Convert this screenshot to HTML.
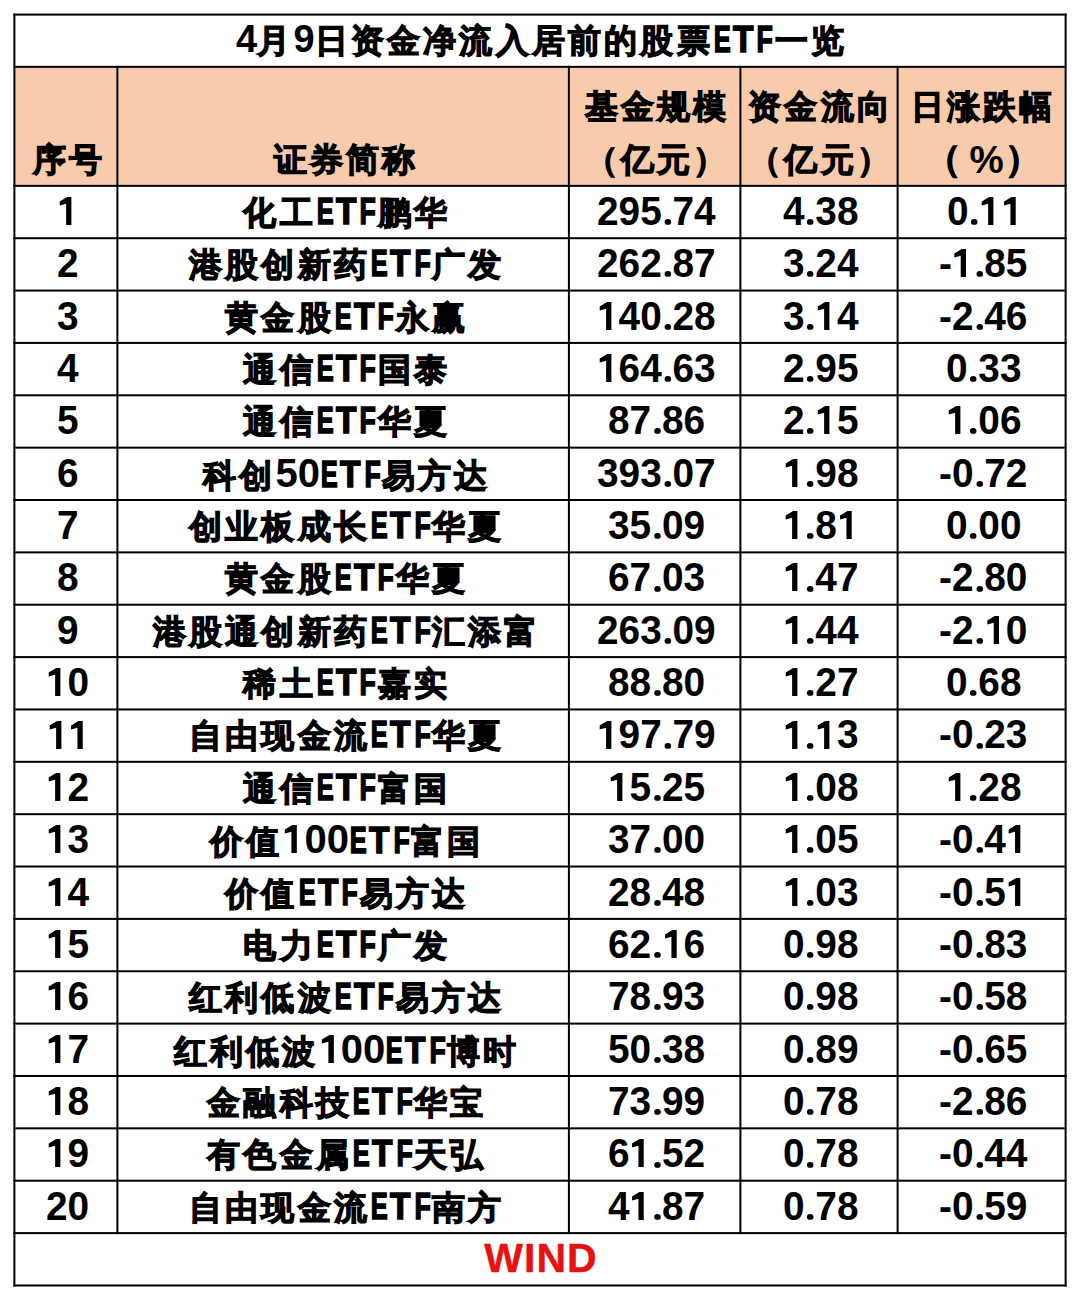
<!DOCTYPE html>
<html><head><meta charset="utf-8"><title>ETF</title><style>
html,body{margin:0;padding:0;background:#fff;}
body{width:1080px;height:1300px;overflow:hidden;position:relative;font-family:"Liberation Sans",sans-serif;font-weight:bold;color:#000;}
svg.grid{position:absolute;left:0;top:0;}
.t{position:absolute;text-align:center;white-space:nowrap;height:60px;line-height:60px;font-size:0;box-sizing:border-box;}
.c{-webkit-text-stroke:1.2px currentColor;position:relative;top:-0.0px;}
.l{display:inline-block;-webkit-text-stroke:0.0px currentColor;}
.s{display:inline-block;transform-origin:0 50%;}
.one{display:inline;vertical-align:baseline;overflow:visible;}
.wind{color:#E81010;}
</style></head>
<body>
<svg class="grid" width="1080" height="1300" viewBox="0 0 1080 1300"><rect x="14.4" y="66.85" width="1051.1999999999998" height="119.0" fill="#F8CBAD"/><rect x="13.40" y="13.60" width="1053.20" height="2.0"/><rect x="13.40" y="65.85" width="1053.20" height="2.0"/><rect x="13.40" y="1284.50" width="1053.20" height="2.0"/><rect x="13.40" y="1232.10" width="1053.20" height="2.0"/><rect x="13.40" y="184.85" width="1053.20" height="2.0"/><rect x="13.40" y="237.21" width="1053.20" height="2.0"/><rect x="13.40" y="289.57" width="1053.20" height="2.0"/><rect x="13.40" y="341.93" width="1053.20" height="2.0"/><rect x="13.40" y="394.29" width="1053.20" height="2.0"/><rect x="13.40" y="446.65" width="1053.20" height="2.0"/><rect x="13.40" y="499.01" width="1053.20" height="2.0"/><rect x="13.40" y="551.37" width="1053.20" height="2.0"/><rect x="13.40" y="603.73" width="1053.20" height="2.0"/><rect x="13.40" y="656.09" width="1053.20" height="2.0"/><rect x="13.40" y="708.45" width="1053.20" height="2.0"/><rect x="13.40" y="760.81" width="1053.20" height="2.0"/><rect x="13.40" y="813.17" width="1053.20" height="2.0"/><rect x="13.40" y="865.53" width="1053.20" height="2.0"/><rect x="13.40" y="917.89" width="1053.20" height="2.0"/><rect x="13.40" y="970.25" width="1053.20" height="2.0"/><rect x="13.40" y="1022.61" width="1053.20" height="2.0"/><rect x="13.40" y="1074.97" width="1053.20" height="2.0"/><rect x="13.40" y="1127.33" width="1053.20" height="2.0"/><rect x="13.40" y="1179.69" width="1053.20" height="2.0"/><rect x="13.40" y="13.60" width="2.0" height="1272.90"/><rect x="1064.60" y="13.60" width="2.0" height="1272.90"/><rect x="116.40" y="65.85" width="2.0" height="1168.25"/><rect x="567.90" y="65.85" width="2.0" height="1168.25"/><rect x="739.40" y="65.85" width="2.0" height="1168.25"/><rect x="896.60" y="65.85" width="2.0" height="1168.25"/></svg>
<div class="t title" style="left:14.40px;width:1051.20px;top:8.50px;padding-left:3.2px"><span class="l" style="font-size:38px">4</span><span class="c" style="font-size:33px;letter-spacing:3.2px">月</span><span class="l" style="font-size:38px">9</span><span class="c" style="font-size:33px;letter-spacing:3.2px">日资金净流入居前的股票</span><span class="l" style="font-size:37.2px;width:18.05px"><span class="s" style="-webkit-text-stroke:1.6px currentColor;transform:translateX(0.74px) scaleX(0.685)">E</span></span><span class="l" style="font-size:37.2px;width:24.60px"><span class="s" style="-webkit-text-stroke:1.6px currentColor;transform:translateX(1.09px) scaleX(0.898)">T</span></span><span class="l" style="font-size:37.2px;width:19.35px"><span class="s" style="-webkit-text-stroke:1.6px currentColor;transform:translateX(1.54px) scaleX(0.718)">F</span></span><span class="c" style="font-size:33px;letter-spacing:3.2px">一览</span></div>
<div class="t " style="left:15.90px;width:103.00px;top:130.00px;padding-left:3.2px"><span class="c" style="font-size:33px;letter-spacing:3.2px">序号</span></div>
<div class="t " style="left:118.90px;width:451.50px;top:130.00px;padding-left:3.2px"><span class="c" style="font-size:33px;letter-spacing:3.2px">证券简称</span></div>
<div class="t " style="left:569.90px;width:171.50px;top:77.00px;padding-left:3.2px"><span class="c" style="font-size:33px;letter-spacing:3.2px">基金规模</span></div>
<div class="t " style="left:569.90px;width:171.50px;top:130.00px;padding-left:3.2px"><span class="c" style="font-size:33px;letter-spacing:3.2px">（亿元）</span></div>
<div class="t " style="left:740.40px;width:157.20px;top:77.00px;padding-left:3.2px"><span class="c" style="font-size:33px;letter-spacing:3.2px">资金流向</span></div>
<div class="t " style="left:740.40px;width:157.20px;top:130.00px;padding-left:3.2px"><span class="c" style="font-size:33px;letter-spacing:3.2px">（亿元）</span></div>
<div class="t " style="left:897.60px;width:168.00px;top:77.00px;padding-left:3.2px"><span class="c" style="font-size:33px;letter-spacing:3.2px">日涨跌幅</span></div>
<div class="t " style="left:897.60px;width:168.00px;top:130.00px;padding-left:0px"><span class="c" style="font-size:36px;position:relative;left:-3px;top:-2.5px">（</span><span class="l" style="font-size:38.5px;position:relative;left:5px">%</span><span class="c" style="font-size:36px;position:relative;left:6px;top:-2.5px">）</span></div>
<div class="t " style="left:15.90px;width:103.00px;top:180.85px;padding-left:0px"><span class="l" style="font-size:40px;width:21.58px"><span class="s" style="transform:scaleX(0.97)"><svg class="one" width="22.25" height="27.90" viewBox="0 0 22.25 27.90"><path d="M10.43,0 L14.83,0 L14.83,27.90 L9.40,27.90 L9.40,6.70 L2.80,8.40 L2.80,4.40 Z"/></svg></span></span></div>
<div class="t " style="left:119.40px;width:451.50px;top:180.85px;padding-left:3.2px"><span class="c" style="font-size:33px;letter-spacing:3.2px">化工</span><span class="l" style="font-size:37.2px;width:18.05px"><span class="s" style="-webkit-text-stroke:1.6px currentColor;transform:translateX(0.74px) scaleX(0.685)">E</span></span><span class="l" style="font-size:37.2px;width:24.60px"><span class="s" style="-webkit-text-stroke:1.6px currentColor;transform:translateX(1.09px) scaleX(0.898)">T</span></span><span class="l" style="font-size:37.2px;width:19.35px"><span class="s" style="-webkit-text-stroke:1.6px currentColor;transform:translateX(1.54px) scaleX(0.718)">F</span></span><span class="c" style="font-size:33px;letter-spacing:3.2px">鹏华</span></div>
<div class="t " style="left:570.90px;width:171.50px;top:180.85px;padding-left:0px"><span class="l" style="font-size:40px;width:118.68px"><span class="s" style="transform:scaleX(0.97)">295<svg class="one" width="11.11" height="5.80" viewBox="0 0 11.11 5.80"><ellipse cx="6.04" cy="2.90" rx="3.40" ry="2.90"/></svg>74</span></span></div>
<div class="t " style="left:742.40px;width:157.20px;top:180.85px;padding-left:0px"><span class="l" style="font-size:40px;width:75.52px"><span class="s" style="transform:scaleX(0.97)">4<svg class="one" width="11.11" height="5.80" viewBox="0 0 11.11 5.80"><ellipse cx="6.04" cy="2.90" rx="3.40" ry="2.90"/></svg>38</span></span></div>
<div class="t " style="left:899.60px;width:168.00px;top:180.85px;padding-left:0px"><span class="l" style="font-size:40px;width:73.38px"><span class="s" style="transform:scaleX(0.97)">0<svg class="one" width="11.11" height="5.80" viewBox="0 0 11.11 5.80"><ellipse cx="6.04" cy="2.90" rx="3.40" ry="2.90"/></svg><svg class="one" width="22.25" height="27.90" viewBox="0 0 22.25 27.90"><path d="M10.43,0 L14.83,0 L14.83,27.90 L9.40,27.90 L9.40,6.70 L2.80,8.40 L2.80,4.40 Z"/></svg><svg class="one" width="22.25" height="27.90" viewBox="0 0 22.25 27.90"><path d="M10.43,0 L14.83,0 L14.83,27.90 L9.40,27.90 L9.40,6.70 L2.80,8.40 L2.80,4.40 Z"/></svg></span></span></div>
<div class="t " style="left:15.90px;width:103.00px;top:233.21px;padding-left:0px"><span class="l" style="font-size:40px;width:21.58px"><span class="s" style="transform:scaleX(0.97)">2</span></span></div>
<div class="t " style="left:119.40px;width:451.50px;top:233.21px;padding-left:3.2px"><span class="c" style="font-size:33px;letter-spacing:3.2px">港股创新药</span><span class="l" style="font-size:37.2px;width:18.05px"><span class="s" style="-webkit-text-stroke:1.6px currentColor;transform:translateX(0.74px) scaleX(0.685)">E</span></span><span class="l" style="font-size:37.2px;width:24.60px"><span class="s" style="-webkit-text-stroke:1.6px currentColor;transform:translateX(1.09px) scaleX(0.898)">T</span></span><span class="l" style="font-size:37.2px;width:19.35px"><span class="s" style="-webkit-text-stroke:1.6px currentColor;transform:translateX(1.54px) scaleX(0.718)">F</span></span><span class="c" style="font-size:33px;letter-spacing:3.2px">广发</span></div>
<div class="t " style="left:570.90px;width:171.50px;top:233.21px;padding-left:0px"><span class="l" style="font-size:40px;width:118.68px"><span class="s" style="transform:scaleX(0.97)">262<svg class="one" width="11.11" height="5.80" viewBox="0 0 11.11 5.80"><ellipse cx="6.04" cy="2.90" rx="3.40" ry="2.90"/></svg>87</span></span></div>
<div class="t " style="left:742.40px;width:157.20px;top:233.21px;padding-left:0px"><span class="l" style="font-size:40px;width:75.52px"><span class="s" style="transform:scaleX(0.97)">3<svg class="one" width="11.11" height="5.80" viewBox="0 0 11.11 5.80"><ellipse cx="6.04" cy="2.90" rx="3.40" ry="2.90"/></svg>24</span></span></div>
<div class="t " style="left:899.60px;width:168.00px;top:233.21px;padding-left:0px"><span class="l" style="font-size:40px;width:88.44px"><span class="s" style="transform:scaleX(0.97)">-<svg class="one" width="22.25" height="27.90" viewBox="0 0 22.25 27.90"><path d="M10.43,0 L14.83,0 L14.83,27.90 L9.40,27.90 L9.40,6.70 L2.80,8.40 L2.80,4.40 Z"/></svg><svg class="one" width="11.11" height="5.80" viewBox="0 0 11.11 5.80"><ellipse cx="6.04" cy="2.90" rx="3.40" ry="2.90"/></svg>85</span></span></div>
<div class="t " style="left:15.90px;width:103.00px;top:285.57px;padding-left:0px"><span class="l" style="font-size:40px;width:21.58px"><span class="s" style="transform:scaleX(0.97)">3</span></span></div>
<div class="t " style="left:119.40px;width:451.50px;top:285.57px;padding-left:3.2px"><span class="c" style="font-size:33px;letter-spacing:3.2px">黄金股</span><span class="l" style="font-size:37.2px;width:18.05px"><span class="s" style="-webkit-text-stroke:1.6px currentColor;transform:translateX(0.74px) scaleX(0.685)">E</span></span><span class="l" style="font-size:37.2px;width:24.60px"><span class="s" style="-webkit-text-stroke:1.6px currentColor;transform:translateX(1.09px) scaleX(0.898)">T</span></span><span class="l" style="font-size:37.2px;width:19.35px"><span class="s" style="-webkit-text-stroke:1.6px currentColor;transform:translateX(1.54px) scaleX(0.718)">F</span></span><span class="c" style="font-size:33px;letter-spacing:3.2px">永赢</span></div>
<div class="t " style="left:570.90px;width:171.50px;top:285.57px;padding-left:0px"><span class="l" style="font-size:40px;width:118.68px"><span class="s" style="transform:scaleX(0.97)"><svg class="one" width="22.25" height="27.90" viewBox="0 0 22.25 27.90"><path d="M10.43,0 L14.83,0 L14.83,27.90 L9.40,27.90 L9.40,6.70 L2.80,8.40 L2.80,4.40 Z"/></svg>40<svg class="one" width="11.11" height="5.80" viewBox="0 0 11.11 5.80"><ellipse cx="6.04" cy="2.90" rx="3.40" ry="2.90"/></svg>28</span></span></div>
<div class="t " style="left:742.40px;width:157.20px;top:285.57px;padding-left:0px"><span class="l" style="font-size:40px;width:75.52px"><span class="s" style="transform:scaleX(0.97)">3<svg class="one" width="11.11" height="5.80" viewBox="0 0 11.11 5.80"><ellipse cx="6.04" cy="2.90" rx="3.40" ry="2.90"/></svg><svg class="one" width="22.25" height="27.90" viewBox="0 0 22.25 27.90"><path d="M10.43,0 L14.83,0 L14.83,27.90 L9.40,27.90 L9.40,6.70 L2.80,8.40 L2.80,4.40 Z"/></svg>4</span></span></div>
<div class="t " style="left:899.60px;width:168.00px;top:285.57px;padding-left:0px"><span class="l" style="font-size:40px;width:88.44px"><span class="s" style="transform:scaleX(0.97)">-2<svg class="one" width="11.11" height="5.80" viewBox="0 0 11.11 5.80"><ellipse cx="6.04" cy="2.90" rx="3.40" ry="2.90"/></svg>46</span></span></div>
<div class="t " style="left:15.90px;width:103.00px;top:337.93px;padding-left:0px"><span class="l" style="font-size:40px;width:21.58px"><span class="s" style="transform:scaleX(0.97)">4</span></span></div>
<div class="t " style="left:119.40px;width:451.50px;top:337.93px;padding-left:3.2px"><span class="c" style="font-size:33px;letter-spacing:3.2px">通信</span><span class="l" style="font-size:37.2px;width:18.05px"><span class="s" style="-webkit-text-stroke:1.6px currentColor;transform:translateX(0.74px) scaleX(0.685)">E</span></span><span class="l" style="font-size:37.2px;width:24.60px"><span class="s" style="-webkit-text-stroke:1.6px currentColor;transform:translateX(1.09px) scaleX(0.898)">T</span></span><span class="l" style="font-size:37.2px;width:19.35px"><span class="s" style="-webkit-text-stroke:1.6px currentColor;transform:translateX(1.54px) scaleX(0.718)">F</span></span><span class="c" style="font-size:33px;letter-spacing:3.2px">国泰</span></div>
<div class="t " style="left:570.90px;width:171.50px;top:337.93px;padding-left:0px"><span class="l" style="font-size:40px;width:118.68px"><span class="s" style="transform:scaleX(0.97)"><svg class="one" width="22.25" height="27.90" viewBox="0 0 22.25 27.90"><path d="M10.43,0 L14.83,0 L14.83,27.90 L9.40,27.90 L9.40,6.70 L2.80,8.40 L2.80,4.40 Z"/></svg>64<svg class="one" width="11.11" height="5.80" viewBox="0 0 11.11 5.80"><ellipse cx="6.04" cy="2.90" rx="3.40" ry="2.90"/></svg>63</span></span></div>
<div class="t " style="left:742.40px;width:157.20px;top:337.93px;padding-left:0px"><span class="l" style="font-size:40px;width:75.52px"><span class="s" style="transform:scaleX(0.97)">2<svg class="one" width="11.11" height="5.80" viewBox="0 0 11.11 5.80"><ellipse cx="6.04" cy="2.90" rx="3.40" ry="2.90"/></svg>95</span></span></div>
<div class="t " style="left:899.60px;width:168.00px;top:337.93px;padding-left:0px"><span class="l" style="font-size:40px;width:75.52px"><span class="s" style="transform:scaleX(0.97)">0<svg class="one" width="11.11" height="5.80" viewBox="0 0 11.11 5.80"><ellipse cx="6.04" cy="2.90" rx="3.40" ry="2.90"/></svg>33</span></span></div>
<div class="t " style="left:15.90px;width:103.00px;top:390.29px;padding-left:0px"><span class="l" style="font-size:40px;width:21.58px"><span class="s" style="transform:scaleX(0.97)">5</span></span></div>
<div class="t " style="left:119.40px;width:451.50px;top:390.29px;padding-left:3.2px"><span class="c" style="font-size:33px;letter-spacing:3.2px">通信</span><span class="l" style="font-size:37.2px;width:18.05px"><span class="s" style="-webkit-text-stroke:1.6px currentColor;transform:translateX(0.74px) scaleX(0.685)">E</span></span><span class="l" style="font-size:37.2px;width:24.60px"><span class="s" style="-webkit-text-stroke:1.6px currentColor;transform:translateX(1.09px) scaleX(0.898)">T</span></span><span class="l" style="font-size:37.2px;width:19.35px"><span class="s" style="-webkit-text-stroke:1.6px currentColor;transform:translateX(1.54px) scaleX(0.718)">F</span></span><span class="c" style="font-size:33px;letter-spacing:3.2px">华夏</span></div>
<div class="t " style="left:570.90px;width:171.50px;top:390.29px;padding-left:0px"><span class="l" style="font-size:40px;width:97.10px"><span class="s" style="transform:scaleX(0.97)">87<svg class="one" width="11.11" height="5.80" viewBox="0 0 11.11 5.80"><ellipse cx="6.04" cy="2.90" rx="3.40" ry="2.90"/></svg>86</span></span></div>
<div class="t " style="left:742.40px;width:157.20px;top:390.29px;padding-left:0px"><span class="l" style="font-size:40px;width:75.52px"><span class="s" style="transform:scaleX(0.97)">2<svg class="one" width="11.11" height="5.80" viewBox="0 0 11.11 5.80"><ellipse cx="6.04" cy="2.90" rx="3.40" ry="2.90"/></svg><svg class="one" width="22.25" height="27.90" viewBox="0 0 22.25 27.90"><path d="M10.43,0 L14.83,0 L14.83,27.90 L9.40,27.90 L9.40,6.70 L2.80,8.40 L2.80,4.40 Z"/></svg>5</span></span></div>
<div class="t " style="left:899.60px;width:168.00px;top:390.29px;padding-left:0px"><span class="l" style="font-size:40px;width:75.52px"><span class="s" style="transform:scaleX(0.97)"><svg class="one" width="22.25" height="27.90" viewBox="0 0 22.25 27.90"><path d="M10.43,0 L14.83,0 L14.83,27.90 L9.40,27.90 L9.40,6.70 L2.80,8.40 L2.80,4.40 Z"/></svg><svg class="one" width="11.11" height="5.80" viewBox="0 0 11.11 5.80"><ellipse cx="6.04" cy="2.90" rx="3.40" ry="2.90"/></svg>06</span></span></div>
<div class="t " style="left:15.90px;width:103.00px;top:442.65px;padding-left:0px"><span class="l" style="font-size:40px;width:21.58px"><span class="s" style="transform:scaleX(0.97)">6</span></span></div>
<div class="t " style="left:119.40px;width:451.50px;top:442.65px;padding-left:3.2px"><span class="c" style="font-size:33px;letter-spacing:3.2px">科创</span><span class="l" style="font-size:40px">50</span><span class="l" style="font-size:37.2px;width:18.05px"><span class="s" style="-webkit-text-stroke:1.6px currentColor;transform:translateX(0.74px) scaleX(0.685)">E</span></span><span class="l" style="font-size:37.2px;width:24.60px"><span class="s" style="-webkit-text-stroke:1.6px currentColor;transform:translateX(1.09px) scaleX(0.898)">T</span></span><span class="l" style="font-size:37.2px;width:19.35px"><span class="s" style="-webkit-text-stroke:1.6px currentColor;transform:translateX(1.54px) scaleX(0.718)">F</span></span><span class="c" style="font-size:33px;letter-spacing:3.2px">易方达</span></div>
<div class="t " style="left:570.90px;width:171.50px;top:442.65px;padding-left:0px"><span class="l" style="font-size:40px;width:118.68px"><span class="s" style="transform:scaleX(0.97)">393<svg class="one" width="11.11" height="5.80" viewBox="0 0 11.11 5.80"><ellipse cx="6.04" cy="2.90" rx="3.40" ry="2.90"/></svg>07</span></span></div>
<div class="t " style="left:742.40px;width:157.20px;top:442.65px;padding-left:0px"><span class="l" style="font-size:40px;width:75.52px"><span class="s" style="transform:scaleX(0.97)"><svg class="one" width="22.25" height="27.90" viewBox="0 0 22.25 27.90"><path d="M10.43,0 L14.83,0 L14.83,27.90 L9.40,27.90 L9.40,6.70 L2.80,8.40 L2.80,4.40 Z"/></svg><svg class="one" width="11.11" height="5.80" viewBox="0 0 11.11 5.80"><ellipse cx="6.04" cy="2.90" rx="3.40" ry="2.90"/></svg>98</span></span></div>
<div class="t " style="left:899.60px;width:168.00px;top:442.65px;padding-left:0px"><span class="l" style="font-size:40px;width:88.44px"><span class="s" style="transform:scaleX(0.97)">-0<svg class="one" width="11.11" height="5.80" viewBox="0 0 11.11 5.80"><ellipse cx="6.04" cy="2.90" rx="3.40" ry="2.90"/></svg>72</span></span></div>
<div class="t " style="left:15.90px;width:103.00px;top:495.01px;padding-left:0px"><span class="l" style="font-size:40px;width:21.58px"><span class="s" style="transform:scaleX(0.97)">7</span></span></div>
<div class="t " style="left:119.40px;width:451.50px;top:495.01px;padding-left:3.2px"><span class="c" style="font-size:33px;letter-spacing:3.2px">创业板成长</span><span class="l" style="font-size:37.2px;width:18.05px"><span class="s" style="-webkit-text-stroke:1.6px currentColor;transform:translateX(0.74px) scaleX(0.685)">E</span></span><span class="l" style="font-size:37.2px;width:24.60px"><span class="s" style="-webkit-text-stroke:1.6px currentColor;transform:translateX(1.09px) scaleX(0.898)">T</span></span><span class="l" style="font-size:37.2px;width:19.35px"><span class="s" style="-webkit-text-stroke:1.6px currentColor;transform:translateX(1.54px) scaleX(0.718)">F</span></span><span class="c" style="font-size:33px;letter-spacing:3.2px">华夏</span></div>
<div class="t " style="left:570.90px;width:171.50px;top:495.01px;padding-left:0px"><span class="l" style="font-size:40px;width:97.10px"><span class="s" style="transform:scaleX(0.97)">35<svg class="one" width="11.11" height="5.80" viewBox="0 0 11.11 5.80"><ellipse cx="6.04" cy="2.90" rx="3.40" ry="2.90"/></svg>09</span></span></div>
<div class="t " style="left:742.40px;width:157.20px;top:495.01px;padding-left:0px"><span class="l" style="font-size:40px;width:75.52px"><span class="s" style="transform:scaleX(0.97)"><svg class="one" width="22.25" height="27.90" viewBox="0 0 22.25 27.90"><path d="M10.43,0 L14.83,0 L14.83,27.90 L9.40,27.90 L9.40,6.70 L2.80,8.40 L2.80,4.40 Z"/></svg><svg class="one" width="11.11" height="5.80" viewBox="0 0 11.11 5.80"><ellipse cx="6.04" cy="2.90" rx="3.40" ry="2.90"/></svg>8<svg class="one" width="22.25" height="27.90" viewBox="0 0 22.25 27.90"><path d="M10.43,0 L14.83,0 L14.83,27.90 L9.40,27.90 L9.40,6.70 L2.80,8.40 L2.80,4.40 Z"/></svg></span></span></div>
<div class="t " style="left:899.60px;width:168.00px;top:495.01px;padding-left:0px"><span class="l" style="font-size:40px;width:75.52px"><span class="s" style="transform:scaleX(0.97)">0<svg class="one" width="11.11" height="5.80" viewBox="0 0 11.11 5.80"><ellipse cx="6.04" cy="2.90" rx="3.40" ry="2.90"/></svg>00</span></span></div>
<div class="t " style="left:15.90px;width:103.00px;top:547.37px;padding-left:0px"><span class="l" style="font-size:40px;width:21.58px"><span class="s" style="transform:scaleX(0.97)">8</span></span></div>
<div class="t " style="left:119.40px;width:451.50px;top:547.37px;padding-left:3.2px"><span class="c" style="font-size:33px;letter-spacing:3.2px">黄金股</span><span class="l" style="font-size:37.2px;width:18.05px"><span class="s" style="-webkit-text-stroke:1.6px currentColor;transform:translateX(0.74px) scaleX(0.685)">E</span></span><span class="l" style="font-size:37.2px;width:24.60px"><span class="s" style="-webkit-text-stroke:1.6px currentColor;transform:translateX(1.09px) scaleX(0.898)">T</span></span><span class="l" style="font-size:37.2px;width:19.35px"><span class="s" style="-webkit-text-stroke:1.6px currentColor;transform:translateX(1.54px) scaleX(0.718)">F</span></span><span class="c" style="font-size:33px;letter-spacing:3.2px">华夏</span></div>
<div class="t " style="left:570.90px;width:171.50px;top:547.37px;padding-left:0px"><span class="l" style="font-size:40px;width:97.10px"><span class="s" style="transform:scaleX(0.97)">67<svg class="one" width="11.11" height="5.80" viewBox="0 0 11.11 5.80"><ellipse cx="6.04" cy="2.90" rx="3.40" ry="2.90"/></svg>03</span></span></div>
<div class="t " style="left:742.40px;width:157.20px;top:547.37px;padding-left:0px"><span class="l" style="font-size:40px;width:75.52px"><span class="s" style="transform:scaleX(0.97)"><svg class="one" width="22.25" height="27.90" viewBox="0 0 22.25 27.90"><path d="M10.43,0 L14.83,0 L14.83,27.90 L9.40,27.90 L9.40,6.70 L2.80,8.40 L2.80,4.40 Z"/></svg><svg class="one" width="11.11" height="5.80" viewBox="0 0 11.11 5.80"><ellipse cx="6.04" cy="2.90" rx="3.40" ry="2.90"/></svg>47</span></span></div>
<div class="t " style="left:899.60px;width:168.00px;top:547.37px;padding-left:0px"><span class="l" style="font-size:40px;width:88.44px"><span class="s" style="transform:scaleX(0.97)">-2<svg class="one" width="11.11" height="5.80" viewBox="0 0 11.11 5.80"><ellipse cx="6.04" cy="2.90" rx="3.40" ry="2.90"/></svg>80</span></span></div>
<div class="t " style="left:15.90px;width:103.00px;top:599.73px;padding-left:0px"><span class="l" style="font-size:40px;width:21.58px"><span class="s" style="transform:scaleX(0.97)">9</span></span></div>
<div class="t " style="left:119.40px;width:451.50px;top:599.73px;padding-left:3.2px"><span class="c" style="font-size:33px;letter-spacing:3.2px">港股通创新药</span><span class="l" style="font-size:37.2px;width:18.05px"><span class="s" style="-webkit-text-stroke:1.6px currentColor;transform:translateX(0.74px) scaleX(0.685)">E</span></span><span class="l" style="font-size:37.2px;width:24.60px"><span class="s" style="-webkit-text-stroke:1.6px currentColor;transform:translateX(1.09px) scaleX(0.898)">T</span></span><span class="l" style="font-size:37.2px;width:19.35px"><span class="s" style="-webkit-text-stroke:1.6px currentColor;transform:translateX(1.54px) scaleX(0.718)">F</span></span><span class="c" style="font-size:33px;letter-spacing:3.2px">汇添富</span></div>
<div class="t " style="left:570.90px;width:171.50px;top:599.73px;padding-left:0px"><span class="l" style="font-size:40px;width:118.68px"><span class="s" style="transform:scaleX(0.97)">263<svg class="one" width="11.11" height="5.80" viewBox="0 0 11.11 5.80"><ellipse cx="6.04" cy="2.90" rx="3.40" ry="2.90"/></svg>09</span></span></div>
<div class="t " style="left:742.40px;width:157.20px;top:599.73px;padding-left:0px"><span class="l" style="font-size:40px;width:75.52px"><span class="s" style="transform:scaleX(0.97)"><svg class="one" width="22.25" height="27.90" viewBox="0 0 22.25 27.90"><path d="M10.43,0 L14.83,0 L14.83,27.90 L9.40,27.90 L9.40,6.70 L2.80,8.40 L2.80,4.40 Z"/></svg><svg class="one" width="11.11" height="5.80" viewBox="0 0 11.11 5.80"><ellipse cx="6.04" cy="2.90" rx="3.40" ry="2.90"/></svg>44</span></span></div>
<div class="t " style="left:899.60px;width:168.00px;top:599.73px;padding-left:0px"><span class="l" style="font-size:40px;width:88.44px"><span class="s" style="transform:scaleX(0.97)">-2<svg class="one" width="11.11" height="5.80" viewBox="0 0 11.11 5.80"><ellipse cx="6.04" cy="2.90" rx="3.40" ry="2.90"/></svg><svg class="one" width="22.25" height="27.90" viewBox="0 0 22.25 27.90"><path d="M10.43,0 L14.83,0 L14.83,27.90 L9.40,27.90 L9.40,6.70 L2.80,8.40 L2.80,4.40 Z"/></svg>0</span></span></div>
<div class="t " style="left:15.90px;width:103.00px;top:652.09px;padding-left:0px"><span class="l" style="font-size:40px;width:43.16px"><span class="s" style="transform:scaleX(0.97)"><svg class="one" width="22.25" height="27.90" viewBox="0 0 22.25 27.90"><path d="M10.43,0 L14.83,0 L14.83,27.90 L9.40,27.90 L9.40,6.70 L2.80,8.40 L2.80,4.40 Z"/></svg>0</span></span></div>
<div class="t " style="left:119.40px;width:451.50px;top:652.09px;padding-left:3.2px"><span class="c" style="font-size:33px;letter-spacing:3.2px">稀土</span><span class="l" style="font-size:37.2px;width:18.05px"><span class="s" style="-webkit-text-stroke:1.6px currentColor;transform:translateX(0.74px) scaleX(0.685)">E</span></span><span class="l" style="font-size:37.2px;width:24.60px"><span class="s" style="-webkit-text-stroke:1.6px currentColor;transform:translateX(1.09px) scaleX(0.898)">T</span></span><span class="l" style="font-size:37.2px;width:19.35px"><span class="s" style="-webkit-text-stroke:1.6px currentColor;transform:translateX(1.54px) scaleX(0.718)">F</span></span><span class="c" style="font-size:33px;letter-spacing:3.2px">嘉实</span></div>
<div class="t " style="left:570.90px;width:171.50px;top:652.09px;padding-left:0px"><span class="l" style="font-size:40px;width:97.10px"><span class="s" style="transform:scaleX(0.97)">88<svg class="one" width="11.11" height="5.80" viewBox="0 0 11.11 5.80"><ellipse cx="6.04" cy="2.90" rx="3.40" ry="2.90"/></svg>80</span></span></div>
<div class="t " style="left:742.40px;width:157.20px;top:652.09px;padding-left:0px"><span class="l" style="font-size:40px;width:75.52px"><span class="s" style="transform:scaleX(0.97)"><svg class="one" width="22.25" height="27.90" viewBox="0 0 22.25 27.90"><path d="M10.43,0 L14.83,0 L14.83,27.90 L9.40,27.90 L9.40,6.70 L2.80,8.40 L2.80,4.40 Z"/></svg><svg class="one" width="11.11" height="5.80" viewBox="0 0 11.11 5.80"><ellipse cx="6.04" cy="2.90" rx="3.40" ry="2.90"/></svg>27</span></span></div>
<div class="t " style="left:899.60px;width:168.00px;top:652.09px;padding-left:0px"><span class="l" style="font-size:40px;width:75.52px"><span class="s" style="transform:scaleX(0.97)">0<svg class="one" width="11.11" height="5.80" viewBox="0 0 11.11 5.80"><ellipse cx="6.04" cy="2.90" rx="3.40" ry="2.90"/></svg>68</span></span></div>
<div class="t " style="left:15.90px;width:103.00px;top:704.45px;padding-left:0px"><span class="l" style="font-size:40px;width:41.02px"><span class="s" style="transform:scaleX(0.97)"><svg class="one" width="22.25" height="27.90" viewBox="0 0 22.25 27.90"><path d="M10.43,0 L14.83,0 L14.83,27.90 L9.40,27.90 L9.40,6.70 L2.80,8.40 L2.80,4.40 Z"/></svg><svg class="one" width="22.25" height="27.90" viewBox="0 0 22.25 27.90"><path d="M10.43,0 L14.83,0 L14.83,27.90 L9.40,27.90 L9.40,6.70 L2.80,8.40 L2.80,4.40 Z"/></svg></span></span></div>
<div class="t " style="left:119.40px;width:451.50px;top:704.45px;padding-left:3.2px"><span class="c" style="font-size:33px;letter-spacing:3.2px">自由现金流</span><span class="l" style="font-size:37.2px;width:18.05px"><span class="s" style="-webkit-text-stroke:1.6px currentColor;transform:translateX(0.74px) scaleX(0.685)">E</span></span><span class="l" style="font-size:37.2px;width:24.60px"><span class="s" style="-webkit-text-stroke:1.6px currentColor;transform:translateX(1.09px) scaleX(0.898)">T</span></span><span class="l" style="font-size:37.2px;width:19.35px"><span class="s" style="-webkit-text-stroke:1.6px currentColor;transform:translateX(1.54px) scaleX(0.718)">F</span></span><span class="c" style="font-size:33px;letter-spacing:3.2px">华夏</span></div>
<div class="t " style="left:570.90px;width:171.50px;top:704.45px;padding-left:0px"><span class="l" style="font-size:40px;width:118.68px"><span class="s" style="transform:scaleX(0.97)"><svg class="one" width="22.25" height="27.90" viewBox="0 0 22.25 27.90"><path d="M10.43,0 L14.83,0 L14.83,27.90 L9.40,27.90 L9.40,6.70 L2.80,8.40 L2.80,4.40 Z"/></svg>97<svg class="one" width="11.11" height="5.80" viewBox="0 0 11.11 5.80"><ellipse cx="6.04" cy="2.90" rx="3.40" ry="2.90"/></svg>79</span></span></div>
<div class="t " style="left:742.40px;width:157.20px;top:704.45px;padding-left:0px"><span class="l" style="font-size:40px;width:75.52px"><span class="s" style="transform:scaleX(0.97)"><svg class="one" width="22.25" height="27.90" viewBox="0 0 22.25 27.90"><path d="M10.43,0 L14.83,0 L14.83,27.90 L9.40,27.90 L9.40,6.70 L2.80,8.40 L2.80,4.40 Z"/></svg><svg class="one" width="11.11" height="5.80" viewBox="0 0 11.11 5.80"><ellipse cx="6.04" cy="2.90" rx="3.40" ry="2.90"/></svg><svg class="one" width="22.25" height="27.90" viewBox="0 0 22.25 27.90"><path d="M10.43,0 L14.83,0 L14.83,27.90 L9.40,27.90 L9.40,6.70 L2.80,8.40 L2.80,4.40 Z"/></svg>3</span></span></div>
<div class="t " style="left:899.60px;width:168.00px;top:704.45px;padding-left:0px"><span class="l" style="font-size:40px;width:88.44px"><span class="s" style="transform:scaleX(0.97)">-0<svg class="one" width="11.11" height="5.80" viewBox="0 0 11.11 5.80"><ellipse cx="6.04" cy="2.90" rx="3.40" ry="2.90"/></svg>23</span></span></div>
<div class="t " style="left:15.90px;width:103.00px;top:756.81px;padding-left:0px"><span class="l" style="font-size:40px;width:43.16px"><span class="s" style="transform:scaleX(0.97)"><svg class="one" width="22.25" height="27.90" viewBox="0 0 22.25 27.90"><path d="M10.43,0 L14.83,0 L14.83,27.90 L9.40,27.90 L9.40,6.70 L2.80,8.40 L2.80,4.40 Z"/></svg>2</span></span></div>
<div class="t " style="left:119.40px;width:451.50px;top:756.81px;padding-left:3.2px"><span class="c" style="font-size:33px;letter-spacing:3.2px">通信</span><span class="l" style="font-size:37.2px;width:18.05px"><span class="s" style="-webkit-text-stroke:1.6px currentColor;transform:translateX(0.74px) scaleX(0.685)">E</span></span><span class="l" style="font-size:37.2px;width:24.60px"><span class="s" style="-webkit-text-stroke:1.6px currentColor;transform:translateX(1.09px) scaleX(0.898)">T</span></span><span class="l" style="font-size:37.2px;width:19.35px"><span class="s" style="-webkit-text-stroke:1.6px currentColor;transform:translateX(1.54px) scaleX(0.718)">F</span></span><span class="c" style="font-size:33px;letter-spacing:3.2px">富国</span></div>
<div class="t " style="left:570.90px;width:171.50px;top:756.81px;padding-left:0px"><span class="l" style="font-size:40px;width:97.10px"><span class="s" style="transform:scaleX(0.97)"><svg class="one" width="22.25" height="27.90" viewBox="0 0 22.25 27.90"><path d="M10.43,0 L14.83,0 L14.83,27.90 L9.40,27.90 L9.40,6.70 L2.80,8.40 L2.80,4.40 Z"/></svg>5<svg class="one" width="11.11" height="5.80" viewBox="0 0 11.11 5.80"><ellipse cx="6.04" cy="2.90" rx="3.40" ry="2.90"/></svg>25</span></span></div>
<div class="t " style="left:742.40px;width:157.20px;top:756.81px;padding-left:0px"><span class="l" style="font-size:40px;width:75.52px"><span class="s" style="transform:scaleX(0.97)"><svg class="one" width="22.25" height="27.90" viewBox="0 0 22.25 27.90"><path d="M10.43,0 L14.83,0 L14.83,27.90 L9.40,27.90 L9.40,6.70 L2.80,8.40 L2.80,4.40 Z"/></svg><svg class="one" width="11.11" height="5.80" viewBox="0 0 11.11 5.80"><ellipse cx="6.04" cy="2.90" rx="3.40" ry="2.90"/></svg>08</span></span></div>
<div class="t " style="left:899.60px;width:168.00px;top:756.81px;padding-left:0px"><span class="l" style="font-size:40px;width:75.52px"><span class="s" style="transform:scaleX(0.97)"><svg class="one" width="22.25" height="27.90" viewBox="0 0 22.25 27.90"><path d="M10.43,0 L14.83,0 L14.83,27.90 L9.40,27.90 L9.40,6.70 L2.80,8.40 L2.80,4.40 Z"/></svg><svg class="one" width="11.11" height="5.80" viewBox="0 0 11.11 5.80"><ellipse cx="6.04" cy="2.90" rx="3.40" ry="2.90"/></svg>28</span></span></div>
<div class="t " style="left:15.90px;width:103.00px;top:809.17px;padding-left:0px"><span class="l" style="font-size:40px;width:43.16px"><span class="s" style="transform:scaleX(0.97)"><svg class="one" width="22.25" height="27.90" viewBox="0 0 22.25 27.90"><path d="M10.43,0 L14.83,0 L14.83,27.90 L9.40,27.90 L9.40,6.70 L2.80,8.40 L2.80,4.40 Z"/></svg>3</span></span></div>
<div class="t " style="left:119.40px;width:451.50px;top:809.17px;padding-left:3.2px"><span class="c" style="font-size:33px;letter-spacing:3.2px">价值</span><span class="l" style="font-size:40px"><svg class="one" width="22.25" height="27.90" viewBox="0 0 22.25 27.90"><path d="M10.43,0 L14.83,0 L14.83,27.90 L9.40,27.90 L9.40,6.70 L2.80,8.40 L2.80,4.40 Z"/></svg>00</span><span class="l" style="font-size:37.2px;width:18.05px"><span class="s" style="-webkit-text-stroke:1.6px currentColor;transform:translateX(0.74px) scaleX(0.685)">E</span></span><span class="l" style="font-size:37.2px;width:24.60px"><span class="s" style="-webkit-text-stroke:1.6px currentColor;transform:translateX(1.09px) scaleX(0.898)">T</span></span><span class="l" style="font-size:37.2px;width:19.35px"><span class="s" style="-webkit-text-stroke:1.6px currentColor;transform:translateX(1.54px) scaleX(0.718)">F</span></span><span class="c" style="font-size:33px;letter-spacing:3.2px">富国</span></div>
<div class="t " style="left:570.90px;width:171.50px;top:809.17px;padding-left:0px"><span class="l" style="font-size:40px;width:97.10px"><span class="s" style="transform:scaleX(0.97)">37<svg class="one" width="11.11" height="5.80" viewBox="0 0 11.11 5.80"><ellipse cx="6.04" cy="2.90" rx="3.40" ry="2.90"/></svg>00</span></span></div>
<div class="t " style="left:742.40px;width:157.20px;top:809.17px;padding-left:0px"><span class="l" style="font-size:40px;width:75.52px"><span class="s" style="transform:scaleX(0.97)"><svg class="one" width="22.25" height="27.90" viewBox="0 0 22.25 27.90"><path d="M10.43,0 L14.83,0 L14.83,27.90 L9.40,27.90 L9.40,6.70 L2.80,8.40 L2.80,4.40 Z"/></svg><svg class="one" width="11.11" height="5.80" viewBox="0 0 11.11 5.80"><ellipse cx="6.04" cy="2.90" rx="3.40" ry="2.90"/></svg>05</span></span></div>
<div class="t " style="left:899.60px;width:168.00px;top:809.17px;padding-left:0px"><span class="l" style="font-size:40px;width:88.44px"><span class="s" style="transform:scaleX(0.97)">-0<svg class="one" width="11.11" height="5.80" viewBox="0 0 11.11 5.80"><ellipse cx="6.04" cy="2.90" rx="3.40" ry="2.90"/></svg>4<svg class="one" width="22.25" height="27.90" viewBox="0 0 22.25 27.90"><path d="M10.43,0 L14.83,0 L14.83,27.90 L9.40,27.90 L9.40,6.70 L2.80,8.40 L2.80,4.40 Z"/></svg></span></span></div>
<div class="t " style="left:15.90px;width:103.00px;top:861.53px;padding-left:0px"><span class="l" style="font-size:40px;width:43.16px"><span class="s" style="transform:scaleX(0.97)"><svg class="one" width="22.25" height="27.90" viewBox="0 0 22.25 27.90"><path d="M10.43,0 L14.83,0 L14.83,27.90 L9.40,27.90 L9.40,6.70 L2.80,8.40 L2.80,4.40 Z"/></svg>4</span></span></div>
<div class="t " style="left:119.40px;width:451.50px;top:861.53px;padding-left:3.2px"><span class="c" style="font-size:33px;letter-spacing:3.2px">价值</span><span class="l" style="font-size:37.2px;width:18.05px"><span class="s" style="-webkit-text-stroke:1.6px currentColor;transform:translateX(0.74px) scaleX(0.685)">E</span></span><span class="l" style="font-size:37.2px;width:24.60px"><span class="s" style="-webkit-text-stroke:1.6px currentColor;transform:translateX(1.09px) scaleX(0.898)">T</span></span><span class="l" style="font-size:37.2px;width:19.35px"><span class="s" style="-webkit-text-stroke:1.6px currentColor;transform:translateX(1.54px) scaleX(0.718)">F</span></span><span class="c" style="font-size:33px;letter-spacing:3.2px">易方达</span></div>
<div class="t " style="left:570.90px;width:171.50px;top:861.53px;padding-left:0px"><span class="l" style="font-size:40px;width:97.10px"><span class="s" style="transform:scaleX(0.97)">28<svg class="one" width="11.11" height="5.80" viewBox="0 0 11.11 5.80"><ellipse cx="6.04" cy="2.90" rx="3.40" ry="2.90"/></svg>48</span></span></div>
<div class="t " style="left:742.40px;width:157.20px;top:861.53px;padding-left:0px"><span class="l" style="font-size:40px;width:75.52px"><span class="s" style="transform:scaleX(0.97)"><svg class="one" width="22.25" height="27.90" viewBox="0 0 22.25 27.90"><path d="M10.43,0 L14.83,0 L14.83,27.90 L9.40,27.90 L9.40,6.70 L2.80,8.40 L2.80,4.40 Z"/></svg><svg class="one" width="11.11" height="5.80" viewBox="0 0 11.11 5.80"><ellipse cx="6.04" cy="2.90" rx="3.40" ry="2.90"/></svg>03</span></span></div>
<div class="t " style="left:899.60px;width:168.00px;top:861.53px;padding-left:0px"><span class="l" style="font-size:40px;width:88.44px"><span class="s" style="transform:scaleX(0.97)">-0<svg class="one" width="11.11" height="5.80" viewBox="0 0 11.11 5.80"><ellipse cx="6.04" cy="2.90" rx="3.40" ry="2.90"/></svg>5<svg class="one" width="22.25" height="27.90" viewBox="0 0 22.25 27.90"><path d="M10.43,0 L14.83,0 L14.83,27.90 L9.40,27.90 L9.40,6.70 L2.80,8.40 L2.80,4.40 Z"/></svg></span></span></div>
<div class="t " style="left:15.90px;width:103.00px;top:913.89px;padding-left:0px"><span class="l" style="font-size:40px;width:43.16px"><span class="s" style="transform:scaleX(0.97)"><svg class="one" width="22.25" height="27.90" viewBox="0 0 22.25 27.90"><path d="M10.43,0 L14.83,0 L14.83,27.90 L9.40,27.90 L9.40,6.70 L2.80,8.40 L2.80,4.40 Z"/></svg>5</span></span></div>
<div class="t " style="left:119.40px;width:451.50px;top:913.89px;padding-left:3.2px"><span class="c" style="font-size:33px;letter-spacing:3.2px">电力</span><span class="l" style="font-size:37.2px;width:18.05px"><span class="s" style="-webkit-text-stroke:1.6px currentColor;transform:translateX(0.74px) scaleX(0.685)">E</span></span><span class="l" style="font-size:37.2px;width:24.60px"><span class="s" style="-webkit-text-stroke:1.6px currentColor;transform:translateX(1.09px) scaleX(0.898)">T</span></span><span class="l" style="font-size:37.2px;width:19.35px"><span class="s" style="-webkit-text-stroke:1.6px currentColor;transform:translateX(1.54px) scaleX(0.718)">F</span></span><span class="c" style="font-size:33px;letter-spacing:3.2px">广发</span></div>
<div class="t " style="left:570.90px;width:171.50px;top:913.89px;padding-left:0px"><span class="l" style="font-size:40px;width:97.10px"><span class="s" style="transform:scaleX(0.97)">62<svg class="one" width="11.11" height="5.80" viewBox="0 0 11.11 5.80"><ellipse cx="6.04" cy="2.90" rx="3.40" ry="2.90"/></svg><svg class="one" width="22.25" height="27.90" viewBox="0 0 22.25 27.90"><path d="M10.43,0 L14.83,0 L14.83,27.90 L9.40,27.90 L9.40,6.70 L2.80,8.40 L2.80,4.40 Z"/></svg>6</span></span></div>
<div class="t " style="left:742.40px;width:157.20px;top:913.89px;padding-left:0px"><span class="l" style="font-size:40px;width:75.52px"><span class="s" style="transform:scaleX(0.97)">0<svg class="one" width="11.11" height="5.80" viewBox="0 0 11.11 5.80"><ellipse cx="6.04" cy="2.90" rx="3.40" ry="2.90"/></svg>98</span></span></div>
<div class="t " style="left:899.60px;width:168.00px;top:913.89px;padding-left:0px"><span class="l" style="font-size:40px;width:88.44px"><span class="s" style="transform:scaleX(0.97)">-0<svg class="one" width="11.11" height="5.80" viewBox="0 0 11.11 5.80"><ellipse cx="6.04" cy="2.90" rx="3.40" ry="2.90"/></svg>83</span></span></div>
<div class="t " style="left:15.90px;width:103.00px;top:966.25px;padding-left:0px"><span class="l" style="font-size:40px;width:43.16px"><span class="s" style="transform:scaleX(0.97)"><svg class="one" width="22.25" height="27.90" viewBox="0 0 22.25 27.90"><path d="M10.43,0 L14.83,0 L14.83,27.90 L9.40,27.90 L9.40,6.70 L2.80,8.40 L2.80,4.40 Z"/></svg>6</span></span></div>
<div class="t " style="left:119.40px;width:451.50px;top:966.25px;padding-left:3.2px"><span class="c" style="font-size:33px;letter-spacing:3.2px">红利低波</span><span class="l" style="font-size:37.2px;width:18.05px"><span class="s" style="-webkit-text-stroke:1.6px currentColor;transform:translateX(0.74px) scaleX(0.685)">E</span></span><span class="l" style="font-size:37.2px;width:24.60px"><span class="s" style="-webkit-text-stroke:1.6px currentColor;transform:translateX(1.09px) scaleX(0.898)">T</span></span><span class="l" style="font-size:37.2px;width:19.35px"><span class="s" style="-webkit-text-stroke:1.6px currentColor;transform:translateX(1.54px) scaleX(0.718)">F</span></span><span class="c" style="font-size:33px;letter-spacing:3.2px">易方达</span></div>
<div class="t " style="left:570.90px;width:171.50px;top:966.25px;padding-left:0px"><span class="l" style="font-size:40px;width:97.10px"><span class="s" style="transform:scaleX(0.97)">78<svg class="one" width="11.11" height="5.80" viewBox="0 0 11.11 5.80"><ellipse cx="6.04" cy="2.90" rx="3.40" ry="2.90"/></svg>93</span></span></div>
<div class="t " style="left:742.40px;width:157.20px;top:966.25px;padding-left:0px"><span class="l" style="font-size:40px;width:75.52px"><span class="s" style="transform:scaleX(0.97)">0<svg class="one" width="11.11" height="5.80" viewBox="0 0 11.11 5.80"><ellipse cx="6.04" cy="2.90" rx="3.40" ry="2.90"/></svg>98</span></span></div>
<div class="t " style="left:899.60px;width:168.00px;top:966.25px;padding-left:0px"><span class="l" style="font-size:40px;width:88.44px"><span class="s" style="transform:scaleX(0.97)">-0<svg class="one" width="11.11" height="5.80" viewBox="0 0 11.11 5.80"><ellipse cx="6.04" cy="2.90" rx="3.40" ry="2.90"/></svg>58</span></span></div>
<div class="t " style="left:15.90px;width:103.00px;top:1018.61px;padding-left:0px"><span class="l" style="font-size:40px;width:43.16px"><span class="s" style="transform:scaleX(0.97)"><svg class="one" width="22.25" height="27.90" viewBox="0 0 22.25 27.90"><path d="M10.43,0 L14.83,0 L14.83,27.90 L9.40,27.90 L9.40,6.70 L2.80,8.40 L2.80,4.40 Z"/></svg>7</span></span></div>
<div class="t " style="left:119.40px;width:451.50px;top:1018.61px;padding-left:3.2px"><span class="c" style="font-size:33px;letter-spacing:3.2px">红利低波</span><span class="l" style="font-size:40px"><svg class="one" width="22.25" height="27.90" viewBox="0 0 22.25 27.90"><path d="M10.43,0 L14.83,0 L14.83,27.90 L9.40,27.90 L9.40,6.70 L2.80,8.40 L2.80,4.40 Z"/></svg>00</span><span class="l" style="font-size:37.2px;width:18.05px"><span class="s" style="-webkit-text-stroke:1.6px currentColor;transform:translateX(0.74px) scaleX(0.685)">E</span></span><span class="l" style="font-size:37.2px;width:24.60px"><span class="s" style="-webkit-text-stroke:1.6px currentColor;transform:translateX(1.09px) scaleX(0.898)">T</span></span><span class="l" style="font-size:37.2px;width:19.35px"><span class="s" style="-webkit-text-stroke:1.6px currentColor;transform:translateX(1.54px) scaleX(0.718)">F</span></span><span class="c" style="font-size:33px;letter-spacing:3.2px">博时</span></div>
<div class="t " style="left:570.90px;width:171.50px;top:1018.61px;padding-left:0px"><span class="l" style="font-size:40px;width:97.10px"><span class="s" style="transform:scaleX(0.97)">50<svg class="one" width="11.11" height="5.80" viewBox="0 0 11.11 5.80"><ellipse cx="6.04" cy="2.90" rx="3.40" ry="2.90"/></svg>38</span></span></div>
<div class="t " style="left:742.40px;width:157.20px;top:1018.61px;padding-left:0px"><span class="l" style="font-size:40px;width:75.52px"><span class="s" style="transform:scaleX(0.97)">0<svg class="one" width="11.11" height="5.80" viewBox="0 0 11.11 5.80"><ellipse cx="6.04" cy="2.90" rx="3.40" ry="2.90"/></svg>89</span></span></div>
<div class="t " style="left:899.60px;width:168.00px;top:1018.61px;padding-left:0px"><span class="l" style="font-size:40px;width:88.44px"><span class="s" style="transform:scaleX(0.97)">-0<svg class="one" width="11.11" height="5.80" viewBox="0 0 11.11 5.80"><ellipse cx="6.04" cy="2.90" rx="3.40" ry="2.90"/></svg>65</span></span></div>
<div class="t " style="left:15.90px;width:103.00px;top:1070.97px;padding-left:0px"><span class="l" style="font-size:40px;width:43.16px"><span class="s" style="transform:scaleX(0.97)"><svg class="one" width="22.25" height="27.90" viewBox="0 0 22.25 27.90"><path d="M10.43,0 L14.83,0 L14.83,27.90 L9.40,27.90 L9.40,6.70 L2.80,8.40 L2.80,4.40 Z"/></svg>8</span></span></div>
<div class="t " style="left:119.40px;width:451.50px;top:1070.97px;padding-left:3.2px"><span class="c" style="font-size:33px;letter-spacing:3.2px">金融科技</span><span class="l" style="font-size:37.2px;width:18.05px"><span class="s" style="-webkit-text-stroke:1.6px currentColor;transform:translateX(0.74px) scaleX(0.685)">E</span></span><span class="l" style="font-size:37.2px;width:24.60px"><span class="s" style="-webkit-text-stroke:1.6px currentColor;transform:translateX(1.09px) scaleX(0.898)">T</span></span><span class="l" style="font-size:37.2px;width:19.35px"><span class="s" style="-webkit-text-stroke:1.6px currentColor;transform:translateX(1.54px) scaleX(0.718)">F</span></span><span class="c" style="font-size:33px;letter-spacing:3.2px">华宝</span></div>
<div class="t " style="left:570.90px;width:171.50px;top:1070.97px;padding-left:0px"><span class="l" style="font-size:40px;width:97.10px"><span class="s" style="transform:scaleX(0.97)">73<svg class="one" width="11.11" height="5.80" viewBox="0 0 11.11 5.80"><ellipse cx="6.04" cy="2.90" rx="3.40" ry="2.90"/></svg>99</span></span></div>
<div class="t " style="left:742.40px;width:157.20px;top:1070.97px;padding-left:0px"><span class="l" style="font-size:40px;width:75.52px"><span class="s" style="transform:scaleX(0.97)">0<svg class="one" width="11.11" height="5.80" viewBox="0 0 11.11 5.80"><ellipse cx="6.04" cy="2.90" rx="3.40" ry="2.90"/></svg>78</span></span></div>
<div class="t " style="left:899.60px;width:168.00px;top:1070.97px;padding-left:0px"><span class="l" style="font-size:40px;width:88.44px"><span class="s" style="transform:scaleX(0.97)">-2<svg class="one" width="11.11" height="5.80" viewBox="0 0 11.11 5.80"><ellipse cx="6.04" cy="2.90" rx="3.40" ry="2.90"/></svg>86</span></span></div>
<div class="t " style="left:15.90px;width:103.00px;top:1123.33px;padding-left:0px"><span class="l" style="font-size:40px;width:43.16px"><span class="s" style="transform:scaleX(0.97)"><svg class="one" width="22.25" height="27.90" viewBox="0 0 22.25 27.90"><path d="M10.43,0 L14.83,0 L14.83,27.90 L9.40,27.90 L9.40,6.70 L2.80,8.40 L2.80,4.40 Z"/></svg>9</span></span></div>
<div class="t " style="left:119.40px;width:451.50px;top:1123.33px;padding-left:3.2px"><span class="c" style="font-size:33px;letter-spacing:3.2px">有色金属</span><span class="l" style="font-size:37.2px;width:18.05px"><span class="s" style="-webkit-text-stroke:1.6px currentColor;transform:translateX(0.74px) scaleX(0.685)">E</span></span><span class="l" style="font-size:37.2px;width:24.60px"><span class="s" style="-webkit-text-stroke:1.6px currentColor;transform:translateX(1.09px) scaleX(0.898)">T</span></span><span class="l" style="font-size:37.2px;width:19.35px"><span class="s" style="-webkit-text-stroke:1.6px currentColor;transform:translateX(1.54px) scaleX(0.718)">F</span></span><span class="c" style="font-size:33px;letter-spacing:3.2px">天弘</span></div>
<div class="t " style="left:570.90px;width:171.50px;top:1123.33px;padding-left:0px"><span class="l" style="font-size:40px;width:97.10px"><span class="s" style="transform:scaleX(0.97)">6<svg class="one" width="22.25" height="27.90" viewBox="0 0 22.25 27.90"><path d="M10.43,0 L14.83,0 L14.83,27.90 L9.40,27.90 L9.40,6.70 L2.80,8.40 L2.80,4.40 Z"/></svg><svg class="one" width="11.11" height="5.80" viewBox="0 0 11.11 5.80"><ellipse cx="6.04" cy="2.90" rx="3.40" ry="2.90"/></svg>52</span></span></div>
<div class="t " style="left:742.40px;width:157.20px;top:1123.33px;padding-left:0px"><span class="l" style="font-size:40px;width:75.52px"><span class="s" style="transform:scaleX(0.97)">0<svg class="one" width="11.11" height="5.80" viewBox="0 0 11.11 5.80"><ellipse cx="6.04" cy="2.90" rx="3.40" ry="2.90"/></svg>78</span></span></div>
<div class="t " style="left:899.60px;width:168.00px;top:1123.33px;padding-left:0px"><span class="l" style="font-size:40px;width:88.44px"><span class="s" style="transform:scaleX(0.97)">-0<svg class="one" width="11.11" height="5.80" viewBox="0 0 11.11 5.80"><ellipse cx="6.04" cy="2.90" rx="3.40" ry="2.90"/></svg>44</span></span></div>
<div class="t " style="left:15.90px;width:103.00px;top:1175.69px;padding-left:0px"><span class="l" style="font-size:40px;width:43.16px"><span class="s" style="transform:scaleX(0.97)">20</span></span></div>
<div class="t " style="left:119.40px;width:451.50px;top:1175.69px;padding-left:3.2px"><span class="c" style="font-size:33px;letter-spacing:3.2px">自由现金流</span><span class="l" style="font-size:37.2px;width:18.05px"><span class="s" style="-webkit-text-stroke:1.6px currentColor;transform:translateX(0.74px) scaleX(0.685)">E</span></span><span class="l" style="font-size:37.2px;width:24.60px"><span class="s" style="-webkit-text-stroke:1.6px currentColor;transform:translateX(1.09px) scaleX(0.898)">T</span></span><span class="l" style="font-size:37.2px;width:19.35px"><span class="s" style="-webkit-text-stroke:1.6px currentColor;transform:translateX(1.54px) scaleX(0.718)">F</span></span><span class="c" style="font-size:33px;letter-spacing:3.2px">南方</span></div>
<div class="t " style="left:570.90px;width:171.50px;top:1175.69px;padding-left:0px"><span class="l" style="font-size:40px;width:97.10px"><span class="s" style="transform:scaleX(0.97)">4<svg class="one" width="22.25" height="27.90" viewBox="0 0 22.25 27.90"><path d="M10.43,0 L14.83,0 L14.83,27.90 L9.40,27.90 L9.40,6.70 L2.80,8.40 L2.80,4.40 Z"/></svg><svg class="one" width="11.11" height="5.80" viewBox="0 0 11.11 5.80"><ellipse cx="6.04" cy="2.90" rx="3.40" ry="2.90"/></svg>87</span></span></div>
<div class="t " style="left:742.40px;width:157.20px;top:1175.69px;padding-left:0px"><span class="l" style="font-size:40px;width:75.52px"><span class="s" style="transform:scaleX(0.97)">0<svg class="one" width="11.11" height="5.80" viewBox="0 0 11.11 5.80"><ellipse cx="6.04" cy="2.90" rx="3.40" ry="2.90"/></svg>78</span></span></div>
<div class="t " style="left:899.60px;width:168.00px;top:1175.69px;padding-left:0px"><span class="l" style="font-size:40px;width:88.44px"><span class="s" style="transform:scaleX(0.97)">-0<svg class="one" width="11.11" height="5.80" viewBox="0 0 11.11 5.80"><ellipse cx="6.04" cy="2.90" rx="3.40" ry="2.90"/></svg>59</span></span></div>
<div class="t wind" style="left:14.90px;width:1051.20px;top:1228.20px;padding-left:1.0px"><span class="l" style="font-size:41px;letter-spacing:1.0px;-webkit-text-stroke:0.4px currentColor">WIND</span></div>
</body></html>
